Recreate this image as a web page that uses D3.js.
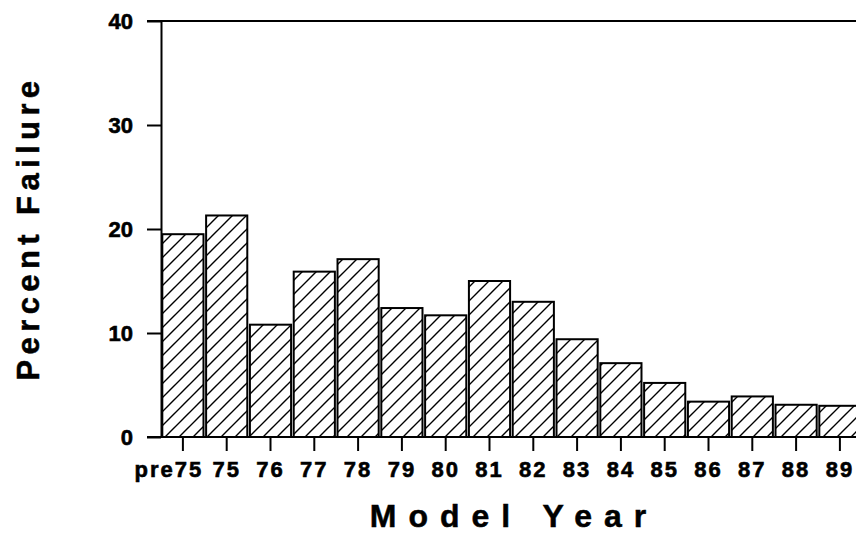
<!DOCTYPE html>
<html>
<head>
<meta charset="utf-8">
<script src="https://cdn.jsdelivr.net/npm/d3@7"></script>
<style>
  html, body { margin: 0; padding: 0; background: #fff; }
  svg { display: block; font-family: "Liberation Sans", Arial, Helvetica, sans-serif; }
</style>
</head>
<body>
<svg id="chart" width="856" height="537"></svg>
<script>
const categories = ["pre75","75","76","77","78","79","80","81","82","83","84","85","86","87","88","89"];
const failurePct = [19.5, 21.3, 10.8, 15.9, 17.1, 12.4, 11.7, 15.0, 13.0, 9.4, 7.1, 5.2, 3.4, 3.9, 3.1, 3.0];
const yTicks = [0, 10, 20, 30, 40];
const xTitle = "Model Year";
const yTitle = "Percent Failure";

const svg = d3.select("#chart");
const plotLeft = 161, plotTop = 21, plotBottom = 437, step = 43.8;
const plotRight = plotLeft + step * categories.length;

const x = d3.scaleBand().domain(categories).range([plotLeft, plotRight]).paddingInner(0.06).paddingOuter(0.03);
const y = d3.scaleLinear().domain([0, 40]).range([plotBottom, plotTop]);

const defs = svg.append("defs");
const pat = defs.append("pattern").attr("id", "hatch").attr("patternUnits", "userSpaceOnUse")
  .attr("width", 14).attr("height", 14);
pat.append("rect").attr("width", 14).attr("height", 14).attr("fill", "#fff");
pat.append("path").attr("d", "M0,14 L14,0 M-3.5,3.5 L3.5,-3.5 M10.5,17.5 L17.5,10.5")
  .attr("stroke", "#000").attr("stroke-width", 1.4).attr("fill", "none");

// bars
svg.append("g").selectAll("rect").data(categories).join("rect")
  .attr("x", d => x(d))
  .attr("y", (d, i) => y(failurePct[i]))
  .attr("width", x.bandwidth())
  .attr("height", (d, i) => y(0) - y(failurePct[i]))
  .attr("fill", "url(#hatch)")
  .attr("stroke", "#000")
  .attr("stroke-width", 2);

// top frame line
svg.append("line").attr("x1", plotLeft - 14).attr("x2", plotRight).attr("y1", y(40)).attr("y2", y(40))
  .attr("stroke", "#000").attr("stroke-width", 2);

// y axis
const yAxis = svg.append("g").attr("transform", `translate(${plotLeft},0)`)
  .call(d3.axisLeft(y).tickValues(yTicks).tickSize(14).tickSizeOuter(0).tickPadding(14));
yAxis.selectAll("path, line").attr("stroke", "#000").attr("stroke-width", 2);
yAxis.selectAll("text").attr("font-size", 22).attr("font-weight", "bold").attr("fill", "#000")
  .attr("stroke", "#000").attr("stroke-width", 0.6)
  .attr("font-family", "Liberation Sans, Arial, sans-serif");

// x axis
const xAxis = svg.append("g").attr("transform", `translate(0,${plotBottom})`)
  .call(d3.axisBottom(x).tickSize(14).tickSizeOuter(0).tickPadding(10));
xAxis.select("path.domain").remove();
xAxis.selectAll("line").attr("stroke", "#000").attr("stroke-width", 2);
xAxis.selectAll("text").attr("font-size", 22).attr("font-weight", "bold").attr("fill", "#000")
  .attr("stroke", "#000").attr("stroke-width", 0.6)
  .attr("font-family", "Liberation Sans, Arial, sans-serif").attr("letter-spacing", 2);
xAxis.selectAll("text").filter(d => d === categories[0]).attr("dx", -14);
svg.append("line").attr("x1", plotLeft - 14).attr("x2", plotRight).attr("y1", plotBottom).attr("y2", plotBottom)
  .attr("stroke", "#000").attr("stroke-width", 2);

// titles
svg.append("text").attr("x", 514).attr("y", 527).attr("text-anchor", "middle")
  .attr("font-size", 32).attr("font-weight", "bold").attr("letter-spacing", 12)
  .attr("stroke", "#000").attr("stroke-width", 0.5).text(xTitle);
svg.append("text").attr("transform", "translate(39,228) rotate(-90)").attr("text-anchor", "middle")
  .attr("font-size", 31).attr("font-weight", "bold").attr("letter-spacing", 5.4)
  .attr("stroke", "#000").attr("stroke-width", 0.5).text(yTitle);
</script>
</body>
</html>
